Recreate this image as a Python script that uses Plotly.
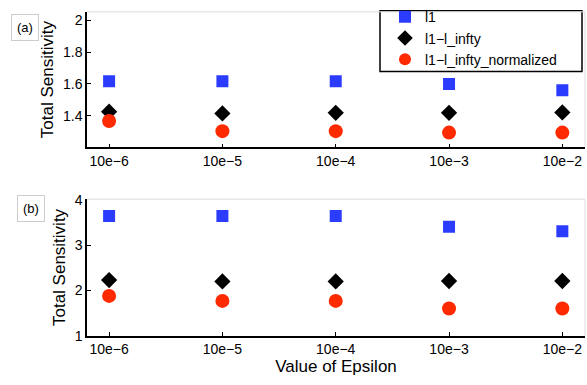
import plotly.graph_objects as go

epsilons = ["10e−6", "10e−5", "10e−4", "10e−3", "10e−2"]
series_names = ["l1", "l1−l_infty", "l1−l_infty_normalized"]

a_l1 = [1.617, 1.617, 1.617, 1.600, 1.560]
a_l1_linf = [1.425, 1.414, 1.418, 1.418, 1.420]
a_l1_linf_norm = [1.366, 1.302, 1.302, 1.293, 1.293]

b_l1 = [3.65, 3.65, 3.65, 3.41, 3.31]
b_l1_linf = [2.23, 2.20, 2.20, 2.21, 2.21]
b_l1_linf_norm = [1.88, 1.77, 1.77, 1.60, 1.60]

colors = ["#2b3cff", "#000000", "#ff2a00"]
symbols = ["square", "diamond", "circle"]
sizes = [12, 12.5, 14]

FONT = "Liberation Sans, Arial, Helvetica, sans-serif"
W, H = 587, 385

fig = go.Figure()
xs = list(range(len(epsilons)))
for i, (name, ya, yb) in enumerate(zip(series_names,
                                       [a_l1, a_l1_linf, a_l1_linf_norm],
                                       [b_l1, b_l1_linf, b_l1_linf_norm])):
    fig.add_trace(go.Scatter(x=xs, y=ya, mode="markers", name=name,
                             marker=dict(symbol=symbols[i], color=colors[i], size=sizes[i],
                                         line=dict(width=0)),
                             xaxis="x", yaxis="y", showlegend=True))
    fig.add_trace(go.Scatter(x=xs, y=yb, mode="markers", name=name,
                             marker=dict(symbol=symbols[i], color=colors[i], size=sizes[i],
                                         line=dict(width=0)),
                             xaxis="x2", yaxis="y2", showlegend=False))

x0p, x1p = 87 / W, 585 / W
top_dom = [1 - 146 / H, 1 - 5 / H]
bot_dom = [1 - 342 / H, 1 - 200 / H]

axis_common = dict(showgrid=False, zeroline=False, showline=True, linecolor="black",
                   linewidth=1.5, ticks="inside", ticklen=4, tickwidth=1, tickcolor="black",
                   tickfont=dict(family=FONT, size=14, color="black"))

fig.update_layout(
    width=W, height=H, margin=dict(l=0, r=0, t=0, b=0),
    paper_bgcolor="white", plot_bgcolor="white",
    font=dict(family=FONT, color="black"),
    xaxis=dict(domain=[x0p, x1p], anchor="y", range=[-0.195, 4.2],
               tickmode="array", tickvals=xs, ticktext=epsilons, **axis_common),
    yaxis=dict(domain=top_dom, anchor="x", range=[1.2, 2.055],
               tickvals=[1.4, 1.6, 1.8, 2.0], ticktext=["1.4", "1.6", "1.8", "2"],
               title=dict(text="Total Sensitivity", font=dict(family=FONT, size=17), standoff=5),
               **axis_common),
    xaxis2=dict(domain=[x0p, x1p], anchor="y2", range=[-0.195, 4.2],
                tickmode="array", tickvals=xs, ticktext=epsilons,
                title=dict(text="Value of Epsilon", font=dict(family=FONT, size=17), standoff=3),
                **axis_common),
    yaxis2=dict(domain=bot_dom, anchor="x2", range=[1, 4.02],
                tickvals=[1, 2, 3, 4],
                title=dict(text="Total Sensitivity", font=dict(family=FONT, size=17), standoff=5),
                **axis_common),
    legend=dict(x=385 / W, y=1 + 6 / H, xanchor="left", yanchor="top",
                bgcolor="rgba(0,0,0,0)", borderwidth=0,
                font=dict(family=FONT, size=14, color="black"),
                tracegroupgap=0, itemsizing="constant"),
    showlegend=True,
)

# legend frame
fig.add_shape(type="rect", xref="paper", yref="paper", layer="below",
              x0=380 / W, x1=582 / W, y0=1 - 67 / H, y1=1 - 4 / H,
              line=dict(color="black", width=1.5), fillcolor="white")

# light gray box on top/right of each panel
for dom in (top_dom, bot_dom):
    fig.add_shape(type="line", xref="paper", yref="paper", x0=x0p, x1=x1p, y0=dom[1], y1=dom[1],
                  line=dict(color="#dddddd", width=1))
    fig.add_shape(type="line", xref="paper", yref="paper", x0=x1p, x1=x1p, y0=dom[0], y1=dom[1],
                  line=dict(color="#dddddd", width=1))

for label, cx, cy in (("(a)", 25, 21.5), ("(b)", 31, 210)):
    fig.add_annotation(text=label, xref="paper", yref="paper", x=cx / W, y=1 - cy / H,
                       xanchor="center", yanchor="middle", showarrow=False,
                       font=dict(family=FONT, size=13, color="black"),
                       bordercolor="#cccccc", borderwidth=1, borderpad=5, bgcolor="white")

fig.write_html("out.html")
